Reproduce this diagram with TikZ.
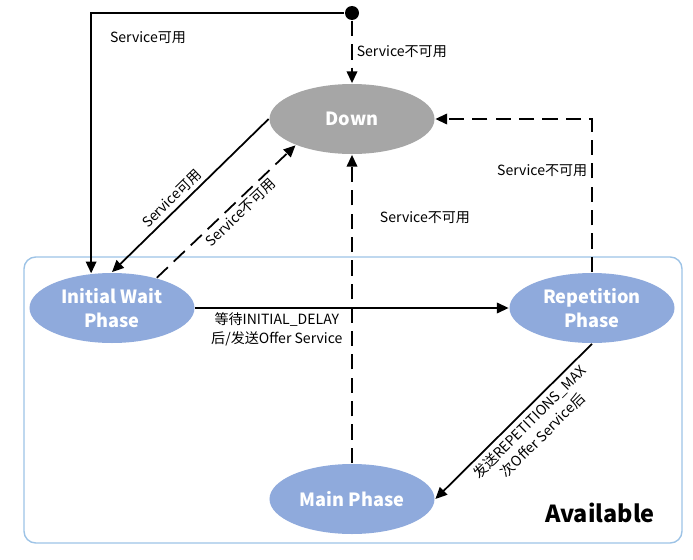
\documentclass[tikz,border=0pt]{standalone}
\usepackage{fontspec}
\setmainfont{Noto Sans CJK SC}
\usetikzlibrary{arrows.meta,shapes.geometric,positioning}
\definecolor{phaseblue}{HTML}{8FAADC}
\definecolor{downgray}{HTML}{A6A6A6}
\definecolor{boxblue}{HTML}{9DC3E6}

\begin{document}
\begin{tikzpicture}[x=0.03cm,y=-0.03cm,->,>={Triangle[length=10pt,width=9pt]},
  line width=1.5pt,
  phase node/.style={ellipse,fill=phaseblue,text=white,minimum width=4.95cm,
    minimum height=2.1cm,inner sep=0pt,align=center,
    font=\fontsize{15.5}{21}\selectfont\bfseries},
  lbl/.style={font=\fontsize{12}{16}\selectfont,text=black},
  unavail/.style={dash pattern=on 13pt off 7pt}]
    \useasboundingbox (0,0) rectangle (693,560);
    % Available region
    \draw[-,boxblue,line width=1.2pt,rounded corners=10pt] (24,257) rectangle (682,543);
    \node[font=\fontsize{20}{24}\selectfont\bfseries] (avail) at (600,513) {Available};

    \node[circle,fill=black,inner sep=0pt,minimum size=0.42cm] (start) at (352,13) {};
    \node[phase node,fill=downgray] (down) at (352,119) {Down};
    \node[phase node] (init) at (112,308) {Initial Wait\\Phase};
    \node[phase node] (rep) at (592,308) {Repetition\\Phase};
    \node[phase node] (main) at (352,499) {Main Phase};

    \draw (start) -| (init.121);
    \node[lbl] at (148,38) {Service可用};
    \path (start) edge[unavail] node[lbl,right]{Service不可用} (down)
          (down.west) edge node[lbl,sloped,above,pos=0.57]{Service可用} (init.north)
          (init.34) edge[unavail] node[lbl,sloped,below,pos=0.55]{Service不可用} (down.205)
          (init) edge node[lbl,below,pos=0.26,align=center]{等待INITIAL\_DELAY\\后/发送Offer Service} (rep)
          (main) edge[unavail] (down)
          (rep.south) edge node[lbl,sloped,below,pos=0.45,align=center]{发送REPETITIONS\_MAX\\次Offer Service后} (main.east)
    ;
    \node[lbl] at (425,218) {Service不可用};
    \draw[unavail] (rep.north) |- node[lbl,left,pos=0.33]{Service不可用} (down.east);
\end{tikzpicture}
\end{document}
